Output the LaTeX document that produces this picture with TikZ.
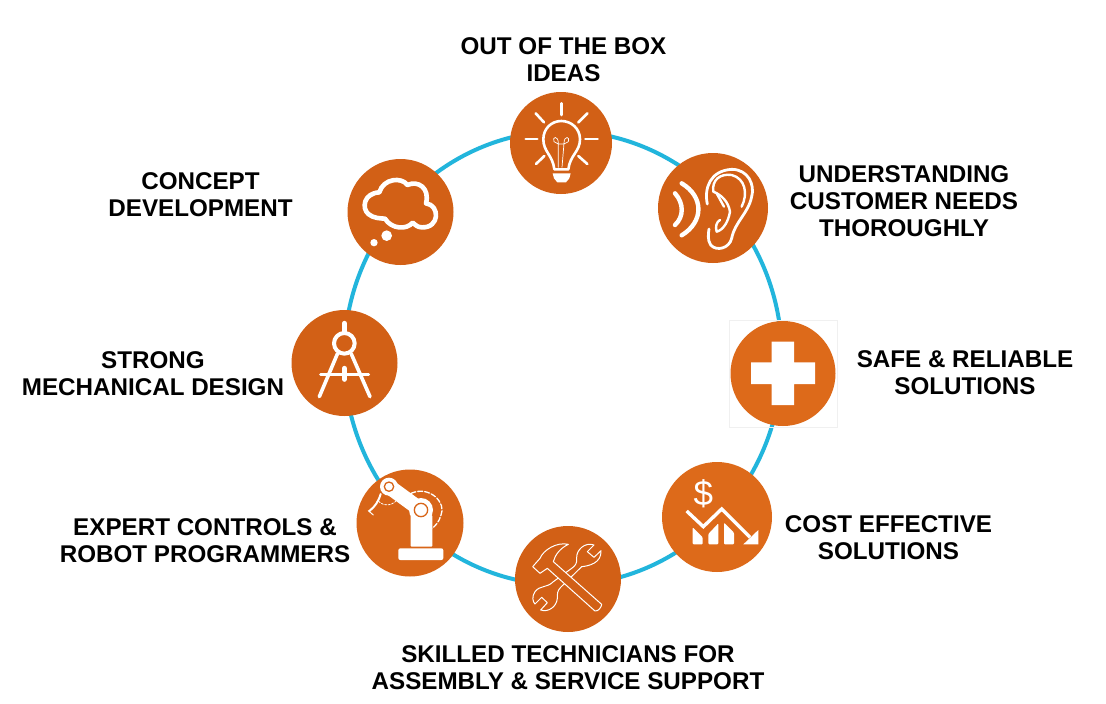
\documentclass[tikz,border=0pt]{standalone}
\usepackage{fontspec}
\setmainfont{Liberation Sans}
\definecolor{ringblue}{HTML}{22B5DC}
\definecolor{orA}{HTML}{D26016}
\definecolor{orB}{HTML}{DD6A1A}
\definecolor{orC}{HTML}{D86518}
\tikzset{
  disc/.style={circle,inner sep=0pt,minimum size=#1},
  lab/.style={font=\fontsize{24.2}{27}\selectfont\bfseries,align=center,inner sep=0pt,text=black},
  icon/.style={draw=white,line cap=round,line join=round,line width=2.6pt,fill=none},
  solidw/.style={fill=white,draw=none},
  zoomI/.style={shift={(500pt,-80pt)},x=0.33333pt,y=-0.33333pt},
  zoomII/.style={shift={(280pt,-150pt)},x=0.33333pt,y=-0.33333pt},
  zoomIII/.style={shift={(340pt,-460pt)},x=0.33333pt,y=-0.33333pt},
  zoomIV/.style={shift={(650pt,-310pt)},x=0.33333pt,y=-0.33333pt},
}
\begin{document}
\begin{tikzpicture}[x=1pt,y=-1pt]
\useasboundingbox (0,0) rectangle (1106,704);
\fill[white] (0,0) rectangle (1106,704);
% ring
\draw[ringblue,line width=4pt] (563,358) ellipse [x radius=219,y radius=227];
% faint frame behind the cross
\draw[black!6,line width=0.7pt] (729,320) rectangle (837,427);
% discs
\node[disc=102pt,fill=orA] (bulb) at (561,143) {};
\node[disc=110pt,fill=orA] (ear) at (713,208) {};
\node[disc=105pt,fill=orB] (cross) at (783,373.5) {};
\node[disc=110pt,fill=orB] (cost) at (717,517) {};
\node[disc=106pt,fill=orA] (tools) at (568,579) {};
\node[disc=107pt,fill=orC] (robot) at (410,523) {};
\node[disc=106pt,fill=orA] (compass) at (344.5,363) {};
\node[disc=106pt,fill=orA] (cloud) at (400.5,212) {};
% bulb
\begin{scope}[zoomI]
 \foreach \a/\b/\c/\d in {184/70/184/105,107/100/132/127,262/100/235/127,77/177/112/177,256/177/293/177,108/252/133/228,262/252/235/228}
   \draw[icon] (\a,\b) -- (\c,\d);
 \draw[icon] (163,268) .. controls (158,225) and (130,215) .. (130,178)
   .. controls (130,145) and (155,123) .. (184,123)
   .. controls (213,123) and (240,145) .. (240,178)
   .. controls (240,215) and (210,225) .. (205,268) -- cycle;
 \draw[icon,line width=0.7pt] (175,262) -- (175,190) .. controls (175,165) and (155,170) .. (162,185) -- (175,192) -- (192,192) -- (205,185) .. controls (212,170) and (192,165) .. (192,190) -- (186,262);
 \fill[white] (158,280) -- (212,280) -- (208,295) -- (198,307) -- (172,307) -- (162,295) -- cycle;
 % ear
 \draw[icon,line width=4.4pt] (525,340) .. controls (552,370) and (552,410) .. (525,435);
 \draw[icon,line width=4.4pt] (545,310) .. controls (612,350) and (612,425) .. (545,466);
 \draw[icon,line width=2.8pt] (622,372) .. controls (612,325) and (630,272) .. (695,268)
   .. controls (745,268) and (765,315) .. (755,350)
   .. controls (745,400) and (705,425) .. (695,475)
   .. controls (688,505) and (650,515) .. (632,495)
   .. controls (622,480) and (625,460) .. (627,447);
 \draw[icon,line width=2.4pt] (725,380) .. controls (745,340) and (735,295) .. (695,285)
   .. controls (660,280) and (635,300) .. (640,335)
   .. controls (665,345) and (685,365) .. (690,395)
   .. controls (685,425) and (670,450) .. (650,455)
   .. controls (645,440) and (650,425) .. (660,420);
 \draw[icon,line width=2.4pt] (650,340) -- (672,380);
\end{scope}
% cloud and compass
\begin{scope}[zoomII]
 \draw[icon,line width=4.6pt] (265,192)
   .. controls (245,175) and (250,130) .. (298,127)
   .. controls (310,85) and (365,80) .. (382,105)
   .. controls (415,90) and (450,115) .. (438,160)
   .. controls (480,165) and (480,235) .. (425,232)
   .. controls (410,232) and (405,222) .. (398,218)
   .. controls (380,240) and (335,238) .. (315,206)
   .. controls (300,205) and (280,205) .. (265,192) -- cycle;
 \fill[white] (320,257) circle [radius=16];
 \fill[white] (282,278) circle [radius=11];
 \draw[icon,line width=5pt] (193,520) -- (193,545);
 \draw[icon,line width=4pt] (193,580) circle [radius=31];
 \draw[icon,line width=3.6pt] (172,612) -- (118,740);
 \draw[icon,line width=3.6pt] (214,612) -- (270,740);
 \draw[icon,line width=3pt] (122,672) -- (266,672);
 \draw[icon,line width=5pt] (193,655) -- (193,688);
\end{scope}
% robot and tools
\begin{scope}[zoomIII]
 \fill[white,rounded corners=2pt] (175,265) rectangle (310,300);
 \fill[white,rounded corners=1pt] (212,165) rectangle (277,260);
 \draw[white,line width=15pt] (150,82) -- (243,150);
 \fill[white] (243,150) circle [radius=36];
 \draw[orC,line width=1.3pt] (243,150) circle [radius=20];
 \fill[white] (147,80) circle [radius=27];
 \draw[orC,line width=1.3pt] (147,80) circle [radius=14];
 \draw[icon,line width=2pt] (122,102) .. controls (115,125) and (105,140) .. (88,153);
 \draw[icon,line width=1pt] (85,152) -- (100,165);
 \draw[icon,line width=1.3pt,dashed,dash pattern=on 5pt off 2pt] (213,100) .. controls (270,75) and (320,130) .. (303,165) .. controls (298,185) and (285,200) .. (273,207);
 \draw[icon,line width=0.8pt,dashed,dash pattern=on 2pt off 1.5pt] (116,124) .. controls (130,140) and (165,140) .. (177,108);
 % wrench
 \draw[white,fill=orA,line width=1pt,line join=round]
   (640,365) .. controls (620,385) and (600,375) .. (585,395)
   .. controls (575,410) and (578,425) .. (585,432)
   -- (605,412) -- (622,428) -- (602,450)
   .. controls (625,458) and (650,440) .. (652,415)
   .. controls (652,400) and (652,392) .. (662,382)
   -- (725,320)
   .. controls (745,318) and (785,310) .. (783,272)
   -- (762,292) -- (742,275) -- (762,255)
   .. controls (735,245) and (708,270) .. (710,295)
   .. controls (712,310) and (705,318) .. (695,325) -- cycle;
 % hammer
 \draw[white,fill=orA,line width=1pt,line join=round]
   (640,305) -- (785,433) .. controls (785,440) and (775,455) .. (765,453)
   -- (622,325) -- (600,340) -- (578,320) -- (600,295)
   .. controls (610,270) and (650,245) .. (685,253)
   .. controls (660,265) and (645,285) .. (640,305) -- cycle;
\end{scope}
% cross and cost
\begin{scope}[zoomIV]
 \fill[white] (365,95) -- (432,95) -- (432,157) -- (495,157) -- (495,222) -- (432,222) -- (432,285) -- (365,285) -- (365,222) -- (303,222) -- (303,157) -- (365,157) -- cycle;
 \node[text=white,font=\fontsize{35}{35}\selectfont] (dollar) at (160,552) {\$};
 \draw[icon,line width=3.4pt,line cap=butt,line join=miter] (110,603) -- (160,650) -- (215,597) -- (300,682);
 \fill[white] (325,660) -- (325,703) -- (280,703) -- cycle;
 \fill[white,rounded corners=1pt] (128,652) -- (158,682) -- (158,703) -- (128,703) -- cycle;
 \fill[white,rounded corners=1pt] (175,672) -- (205,640) -- (205,703) -- (175,703) -- cycle;
 \fill[white,rounded corners=1pt] (222,638) -- (252,668) -- (252,703) -- (222,703) -- cycle;
\end{scope}
% labels
\node[lab] (l1) at (563.5,59.5) {OUT OF THE BOX\\IDEAS};
\node[lab] (l2) at (904,201) {UNDERSTANDING\\CUSTOMER NEEDS\\THOROUGHLY};
\node[lab] (l3) at (965,372.5) {SAFE \& RELIABLE\\SOLUTIONS};
\node[lab] (l4) at (888.5,537.5) {COST EFFECTIVE\\SOLUTIONS};
\node[lab] (l5) at (568,667.5) {SKILLED TECHNICIANS FOR\\ASSEMBLY \& SERVICE SUPPORT};
\node[lab] (l6) at (205,541) {EXPERT CONTROLS \&\\ROBOT PROGRAMMERS};
\node[lab] (l7) at (153,373.5) {STRONG\\MECHANICAL DESIGN};
\node[lab] (l8) at (200.5,194.5) {CONCEPT\\DEVELOPMENT};
\end{tikzpicture}
\end{document}
